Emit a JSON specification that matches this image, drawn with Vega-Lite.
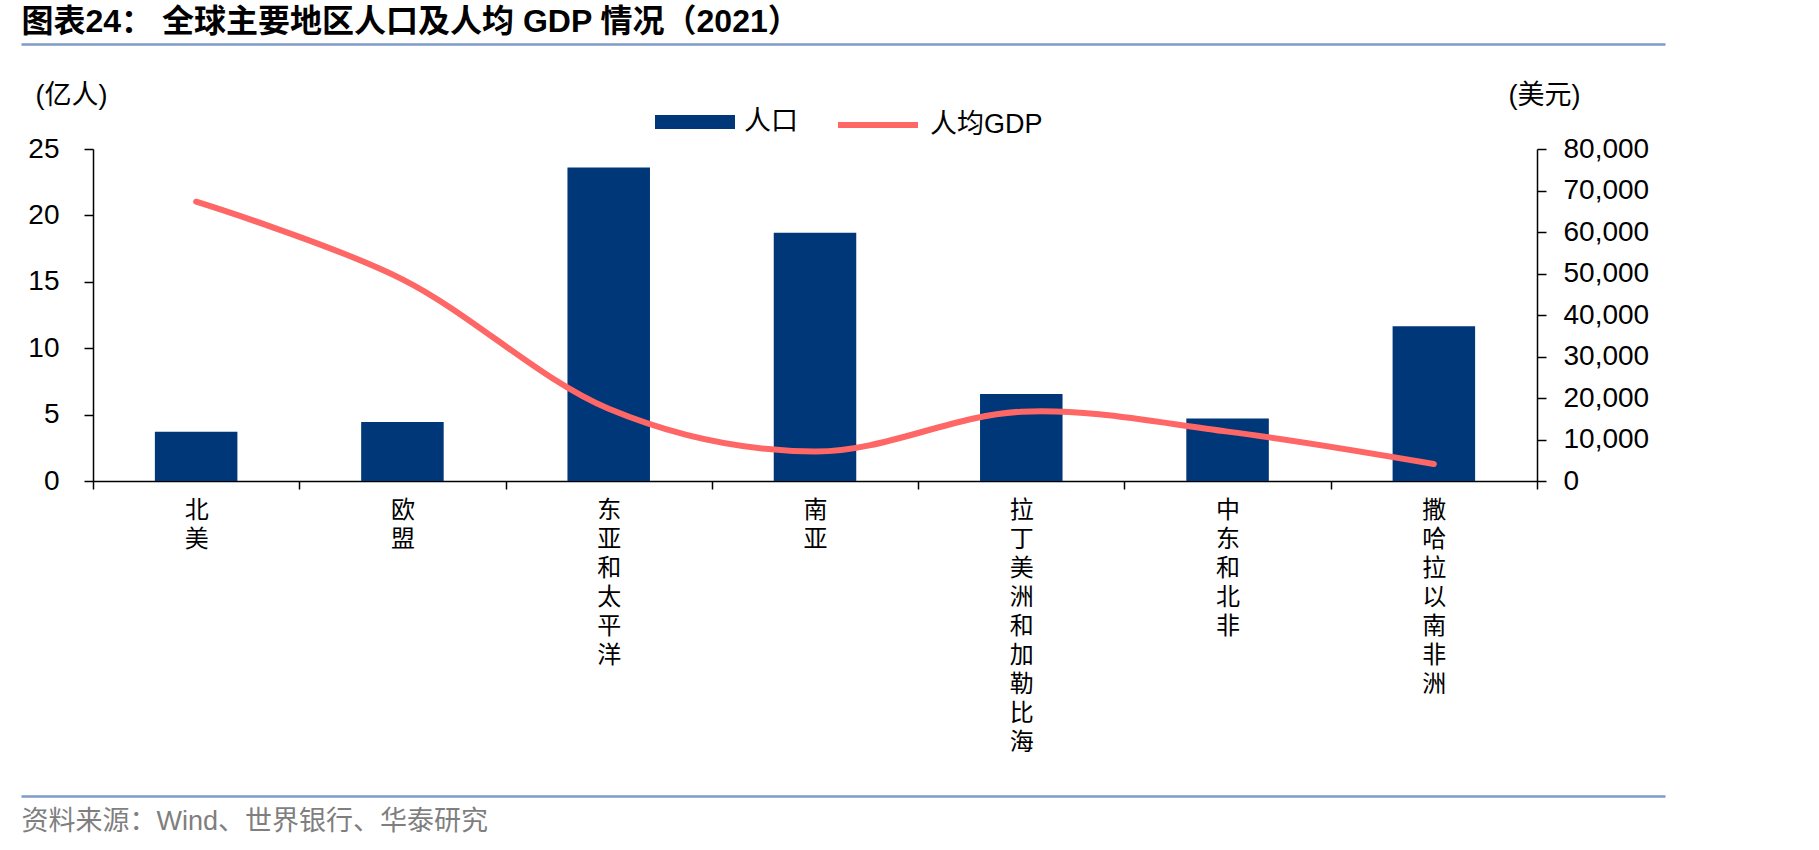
{
  "$schema": "https://vega.github.io/schema/vega-lite/v6.json",
  "autosize": {"type": "none"},
  "width": 1444,
  "height": 332,
  "padding": {"left": 93, "top": 149, "right": 282, "bottom": 369},
  "background": "white",
  "config": {
    "view": {"stroke": null},
    "font": "Liberation Sans, Noto Sans CJK SC",
    "axis": {"labelFont": "Liberation Sans, Noto Sans CJK SC", "titleFont": "Liberation Sans, Noto Sans CJK SC", "labelColor": "#000", "titleColor": "#000", "domainColor": "#000", "tickColor": "#000", "grid": false},
    "legend": {"labelFont": "Liberation Sans, Noto Sans CJK SC", "labelColor": "#000"}
  },
  "data": {
    "values": [
      {"region": "北美", "pop": 3.7, "gdp": 67300},
      {"region": "欧盟", "pop": 4.45, "gdp": 48600},
      {"region": "东亚和太平洋", "pop": 23.6, "gdp": 17400},
      {"region": "南亚", "pop": 18.7, "gdp": 7100},
      {"region": "拉丁美洲和加勒比海", "pop": 6.55, "gdp": 16700},
      {"region": "中东和北非", "pop": 4.7, "gdp": 11900},
      {"region": "撒哈拉以南非洲", "pop": 11.65, "gdp": 4100}
    ]
  },
  "layer": [
    {
      "mark": {"type": "bar", "width": {"band": 0.4}},
      "encoding": {
        "x": {
          "field": "region", "type": "nominal", "sort": null,
          "scale": {"type": "band", "paddingInner": 0, "paddingOuter": 0},
          "axis": {
            "orient": "bottom", "title": null, "labelAngle": 0,
            "labelExpr": "split(datum.label, '')",
            "labelBaseline": "top", "labelLineHeight": 29, "labelFontSize": 24,
            "labelFont": "Noto Sans CJK SC", "labelPadding": 9,
            "tickBand": "extent", "tickSize": 8, "tickWidth": 1.5, "domainWidth": 1.5,
            "labelOverlap": false, "labelLimit": 0
          }
        },
        "y": {
          "field": "pop", "type": "quantitative",
          "scale": {"domain": [0, 25], "nice": false},
          "axis": {
            "orient": "left", "values": [0, 5, 10, 15, 20, 25],
            "labelFontSize": 28, "labelPadding": 25, "tickSize": 9, "tickWidth": 1.5, "domainWidth": 1.5,
            "title": "(亿人)", "titleAngle": 0, "titleX": -58, "titleY": -54,
            "titleAlign": "left", "titleBaseline": "middle", "titleFontSize": 27, "titleFontWeight": "normal"
          }
        },
        "fill": {
          "datum": "人口",
          "scale": {"domain": ["人口"], "range": ["#003778"]},
          "legend": {
            "orient": "none", "legendX": 562, "legendY": -67, "title": null, "padding": 0,
            "symbolType": "M-1,-0.175L1,-0.175L1,0.175L-1,0.175Z", "symbolSize": 6400,
            "symbolStrokeWidth": 0, "labelFontSize": 27, "labelOffset": 9
          }
        }
      }
    },
    {
      "mark": {"type": "line", "interpolate": "cardinal", "strokeWidth": 6, "strokeCap": "round"},
      "encoding": {
        "x": {
          "field": "region", "type": "nominal", "sort": null,
          "scale": {"type": "point", "padding": 0.5},
          "axis": null
        },
        "y": {
          "field": "gdp", "type": "quantitative",
          "scale": {"domain": [0, 80000], "nice": false},
          "axis": {
            "orient": "right", "values": [0, 10000, 20000, 30000, 40000, 50000, 60000, 70000, 80000],
            "format": ",.0f", "labelFontSize": 28, "labelPadding": 17, "tickSize": 9, "tickWidth": 1.5, "domainWidth": 1.5,
            "title": "(美元)", "titleAngle": 0, "titleX": -29, "titleY": -54,
            "titleAlign": "left", "titleBaseline": "middle", "titleFontSize": 27, "titleFontWeight": "normal"
          }
        },
        "stroke": {
          "datum": "人均GDP",
          "scale": {"domain": ["人均GDP"], "range": ["#FF6666"]},
          "legend": {
            "orient": "none", "legendX": 742, "legendY": -67, "title": null, "padding": 0,
            "symbolType": "stroke", "symbolSize": 6400, "symbolStrokeWidth": 6,
            "labelFontSize": 27, "labelOffset": 9
          }
        }
      }
    },
    {
      "mark": {"type": "rule", "opacity": 0},
      "encoding": {
        "x": {
          "field": "pop", "type": "quantitative",
          "scale": {"domain": [0, 25], "range": [-72, 1572]},
          "axis": {
            "orient": "top", "offset": 105, "domainColor": "#7E9AC6", "domainWidth": 2.5,
            "ticks": false, "labels": false, "grid": false,
            "title": "图表24： 全球主要地区人口及人均 GDP 情况（2021）",
            "titleX": -72, "titleY": -23, "titleAlign": "left", "titleBaseline": "middle",
            "titleFontSize": 32, "titleFontWeight": "bold", "titleColor": "#000"
          }
        }
      }
    },
    {
      "mark": {"type": "rule", "opacity": 0},
      "encoding": {
        "x": {
          "field": "gdp", "type": "quantitative",
          "scale": {"domain": [0, 80000], "range": [-72, 1572]},
          "axis": {
            "orient": "bottom", "offset": 315, "domainColor": "#7E9AC6", "domainWidth": 2.5,
            "ticks": false, "labels": false, "grid": false,
            "title": "资料来源：Wind、世界银行、华泰研究",
            "titleX": -72, "titleY": 25, "titleAlign": "left", "titleBaseline": "middle",
            "titleFontSize": 27, "titleFontWeight": "normal", "titleColor": "#7F7F7F"
          }
        }
      }
    }
  ],
  "resolve": {"scale": {"x": "independent", "y": "independent"}}
}
